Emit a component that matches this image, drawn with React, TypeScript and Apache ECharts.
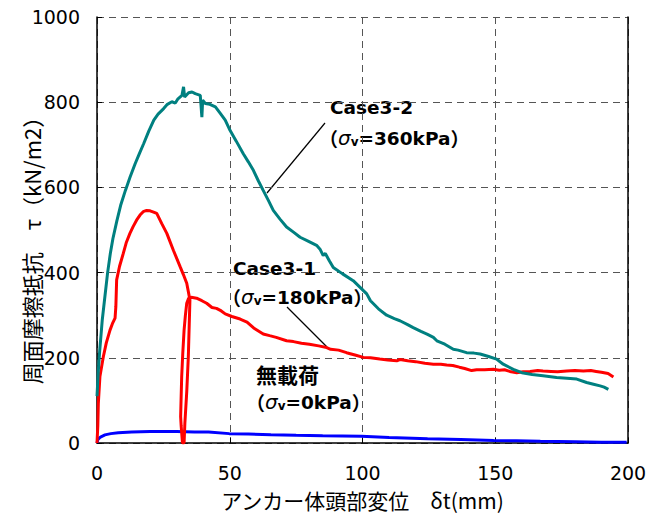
import React, { useEffect, useRef } from "react";
import * as echarts from "echarts";

const xTicks = [0, 50, 100, 150, 200];
const yTicks = [0, 200, 400, 600, 800, 1000];

const case32: [number, number][] = [
  [0, 110], [0.5, 170], [1, 215], [2, 290], [3, 345], [4, 400], [5, 444], [6, 480], [7.5, 522], [9, 560],
  [10.7, 593], [12.5, 625], [14.4, 656], [16, 680], [17.6, 703], [19.5, 732], [21.4, 758], [23, 772], [25.1, 785],
  [26.5, 795], [28.2, 801], [29.5, 798], [30.5, 808], [32, 816], [32.6, 836], [33, 812], [34.5, 822], [35.8, 824],
  [37, 820], [38.9, 816], [39.5, 765], [39.8, 805], [40.8, 797], [42.5, 795], [44.6, 789], [46.3, 775], [48.3, 758],
  [50.1, 734], [52.5, 708], [55.1, 679], [57, 660], [58.9, 640], [60.8, 615], [62.6, 593], [64.5, 570], [66.4, 546],
  [69, 525], [71.4, 507], [74, 495], [76.5, 483], [79.5, 474], [82.7, 464], [84, 455], [85.2, 440], [86, 445],
  [87.5, 428], [89, 412], [92.5, 397], [96.5, 381], [99, 366], [101.6, 350], [103, 334], [106, 315], [109.1, 300],
  [112, 292], [114.1, 287], [117, 278], [119.1, 271], [122, 262], [124.5, 255], [126.7, 248], [128, 240], [131, 232],
  [134.2, 220], [136, 218], [139.2, 212], [142, 211], [144.3, 209], [147.5, 203], [150.5, 197], [153, 185],
  [156.8, 173], [160, 165], [163.9, 161], [168, 158], [173.1, 154], [177, 152], [180.7, 150], [184.4, 142],
  [187, 138], [189.5, 134], [191, 131], [192.6, 126],
];

const case31: [number, number][] = [
  [0, 0], [0.3, 40], [0.5, 93], [1.1, 156], [2.4, 203], [3.5, 235], [4.9, 265], [5.8, 280], [6.8, 293], [7.1, 320],
  [7.4, 383], [8.5, 415], [9.9, 445], [11, 470], [12.4, 492], [13.6, 508], [14.9, 523], [16.2, 535], [17.4, 543],
  [18.7, 546], [20, 545], [21.3, 542], [22.5, 539], [24.4, 515], [26.3, 492], [28.8, 452], [31.3, 414], [32.5, 396],
  [33.8, 375], [35.0, 336], [34.7, 270], [34.4, 203], [33.8, 120], [33.1, 47], [32.8, 0], [32.2, 0], [31.7, 40],
  [31.5, 62], [31.7, 110], [31.9, 156], [32.3, 210], [32.8, 265], [33.3, 300], [33.8, 328], [34.5, 340], [35.5, 342],
  [37.5, 340], [39.5, 334], [41.3, 328], [43.3, 318], [45, 316], [46.8, 310], [48.3, 303], [50.8, 297], [53.9, 291],
  [56.5, 284], [59, 270], [62.6, 256], [65, 252], [67.5, 248], [71.4, 240], [74, 238], [77, 234], [80, 232],
  [83.5, 228], [86.5, 224], [88, 220], [91, 218], [94, 212], [97.5, 206], [100.3, 201], [103, 200], [106.5, 197],
  [109.5, 195], [112.9, 193], [114.1, 196], [117, 193], [120, 191], [123.5, 187], [126.7, 185], [129.5, 185],
  [131.7, 183], [134, 182], [136.5, 178], [138.5, 175], [141.1, 170], [143, 172], [146, 172], [149.3, 173],
  [151.5, 171], [153.5, 172], [155.5, 168], [158.1, 165], [160.5, 167], [163.1, 168], [166, 170], [168, 169],
  [171, 168], [173.5, 167], [176.9, 169], [180, 170], [183.2, 169], [186, 170], [188, 168], [190, 166],
  [192.5, 163], [194.5, 155],
];

const noLoad: [number, number][] = [
  [0, 0], [0.3, 8], [1.3, 14], [3, 19], [5.2, 22], [8, 24], [13.1, 26], [20, 27], [25, 27], [30, 27], [36.7, 26],
  [42, 26], [49.8, 22], [57, 21], [65.5, 19.5], [75, 18], [85, 17], [99.6, 16], [110, 13], [124.5, 10], [137, 8],
  [149.4, 6], [158, 5], [167, 4], [180, 3], [190, 2], [199.5, 2],
];

const seriesNames = ["Case3-2", "Case3-1", "無載荷"];
const seriesColors = ["#008080", "#ff0000", "#0000ff"];

const latin = "DejaVu Sans";
const cjk = "Noto Sans CJK JP";

function sigmaRich() {
  return {
    p: { fontSize: 19, fontFamily: cjk, fontWeight: "bold", fill: "#000" },
    s: { fontSize: 20, fontFamily: latin, fontStyle: "italic", fill: "#000" },
    v: { fontSize: 12, fontFamily: latin, fontWeight: "bold", fill: "#000", verticalAlign: "bottom", lineHeight: 12 },
    t: { fontSize: 18.5, fontFamily: latin, fontWeight: "bold", fill: "#000" },
  };
}

function label(x: number, y: number, text: string, rich?: any, font?: any) {
  return {
    type: "text",
    x,
    y,
    silent: true,
    style: {
      text,
      align: "left",
      verticalAlign: "middle",
      fill: "#000",
      fontSize: 18.5,
      fontFamily: latin,
      fontWeight: "bold",
      ...(font || {}),
      ...(rich ? { rich } : {}),
    },
  };
}

export default function App() {
  const ref = useRef<HTMLDivElement>(null);
  useEffect(() => {
    document.body.style.margin = "0";
    const chart = echarts.init(ref.current!, null, { renderer: "svg" });
    const data = [case32, case31, noLoad];
    chart.setOption({
      animation: false,
      backgroundColor: "#fff",
      grid: { left: 97, right: 29, top: 17, bottom: 72, containLabel: false, outerBoundsMode: "none" },
      xAxis: {
        type: "value",
        min: xTicks[0],
        max: xTicks[xTicks.length - 1],
        interval: 50,
        name: "アンカー体頭部変位　δt(mm)",
        nameLocation: "middle",
        nameGap: 46,
        nameMoveOverlap: false,
        nameTextStyle: { fontSize: 21, lineHeight: 21, fontFamily: cjk, color: "#000" },
        axisLine: { show: true, lineStyle: { color: "#000", width: 1.5 } },
        axisTick: { show: true, inside: true, length: 5, lineStyle: { color: "#000" } },
        axisLabel: {
          fontSize: 19, lineHeight: 18, fontFamily: latin, color: "#000", margin: 21,
          formatter: (v: number) => String(v),
        },
        splitLine: { show: true, lineStyle: { color: "#555", type: [7, 5], width: 1 } },
      },
      yAxis: [
        {
          type: "value",
          min: yTicks[0],
          max: yTicks[yTicks.length - 1],
          interval: 200,
          name: "周面摩擦抵抗　τ（kN/m2）",
          nameLocation: "middle",
          nameGap: 55,
          nameMoveOverlap: false,
          nameTextStyle: { fontSize: 22, fontFamily: cjk, color: "#000", padding: [0, 30, 0, 0] },
          axisLine: { show: true, lineStyle: { color: "#000", width: 1.5 } },
          axisTick: { show: true, inside: true, length: 5, lineStyle: { color: "#000" } },
          axisLabel: { fontSize: 19, fontFamily: latin, color: "#000", margin: 17, formatter: (v: number) => String(v) },
          splitLine: { show: true, lineStyle: { color: "#555", type: [7, 5], width: 1 } },
        },
        {
          type: "value",
          position: "right",
          min: yTicks[0],
          max: yTicks[yTicks.length - 1],
          interval: 200,
          axisLine: { show: true, onZero: false, lineStyle: { color: "#000", width: 1.5 } },
          axisTick: { show: false },
          axisLabel: { show: false },
          splitLine: { show: false },
        },
      ],
      series: data.map((d, i) => ({
        type: "line",
        name: seriesNames[i],
        data: d,
        yAxisIndex: 0,
        showSymbol: false,
        symbol: "none",
        lineStyle: { color: seriesColors[i], width: 3 },
        itemStyle: { color: seriesColors[i] },
        z: 3 - i,
      })),
      graphic: [
        { type: "line", silent: true, shape: { x1: 325, y1: 123, x2: 267, y2: 193 }, style: { stroke: "#000", lineWidth: 1.2 } },
        { type: "line", silent: true, shape: { x1: 287, y1: 307, x2: 327, y2: 347 }, style: { stroke: "#000", lineWidth: 1.2 } },
        label(330, 107, "Case3-2"),
        label(319, 138, "{p|（}{s|σ}{v|v}{t|=360kPa}{p|）}", sigmaRich()),
        label(233, 268, "Case3-1"),
        label(222, 297, "{p|（}{s|σ}{v|v}{t|=180kPa}{p|）}", sigmaRich()),
        label(256, 374, "無載荷", undefined, { fontFamily: cjk, fontSize: 21 }),
        label(246, 402, "{p|（}{s|σ}{v|v}{t|=0kPa}{p|）}", sigmaRich()),
      ],
    });
    return () => chart.dispose();
  }, []);
  return <div ref={ref} style={{ width: 657, height: 515 }} />;
}
